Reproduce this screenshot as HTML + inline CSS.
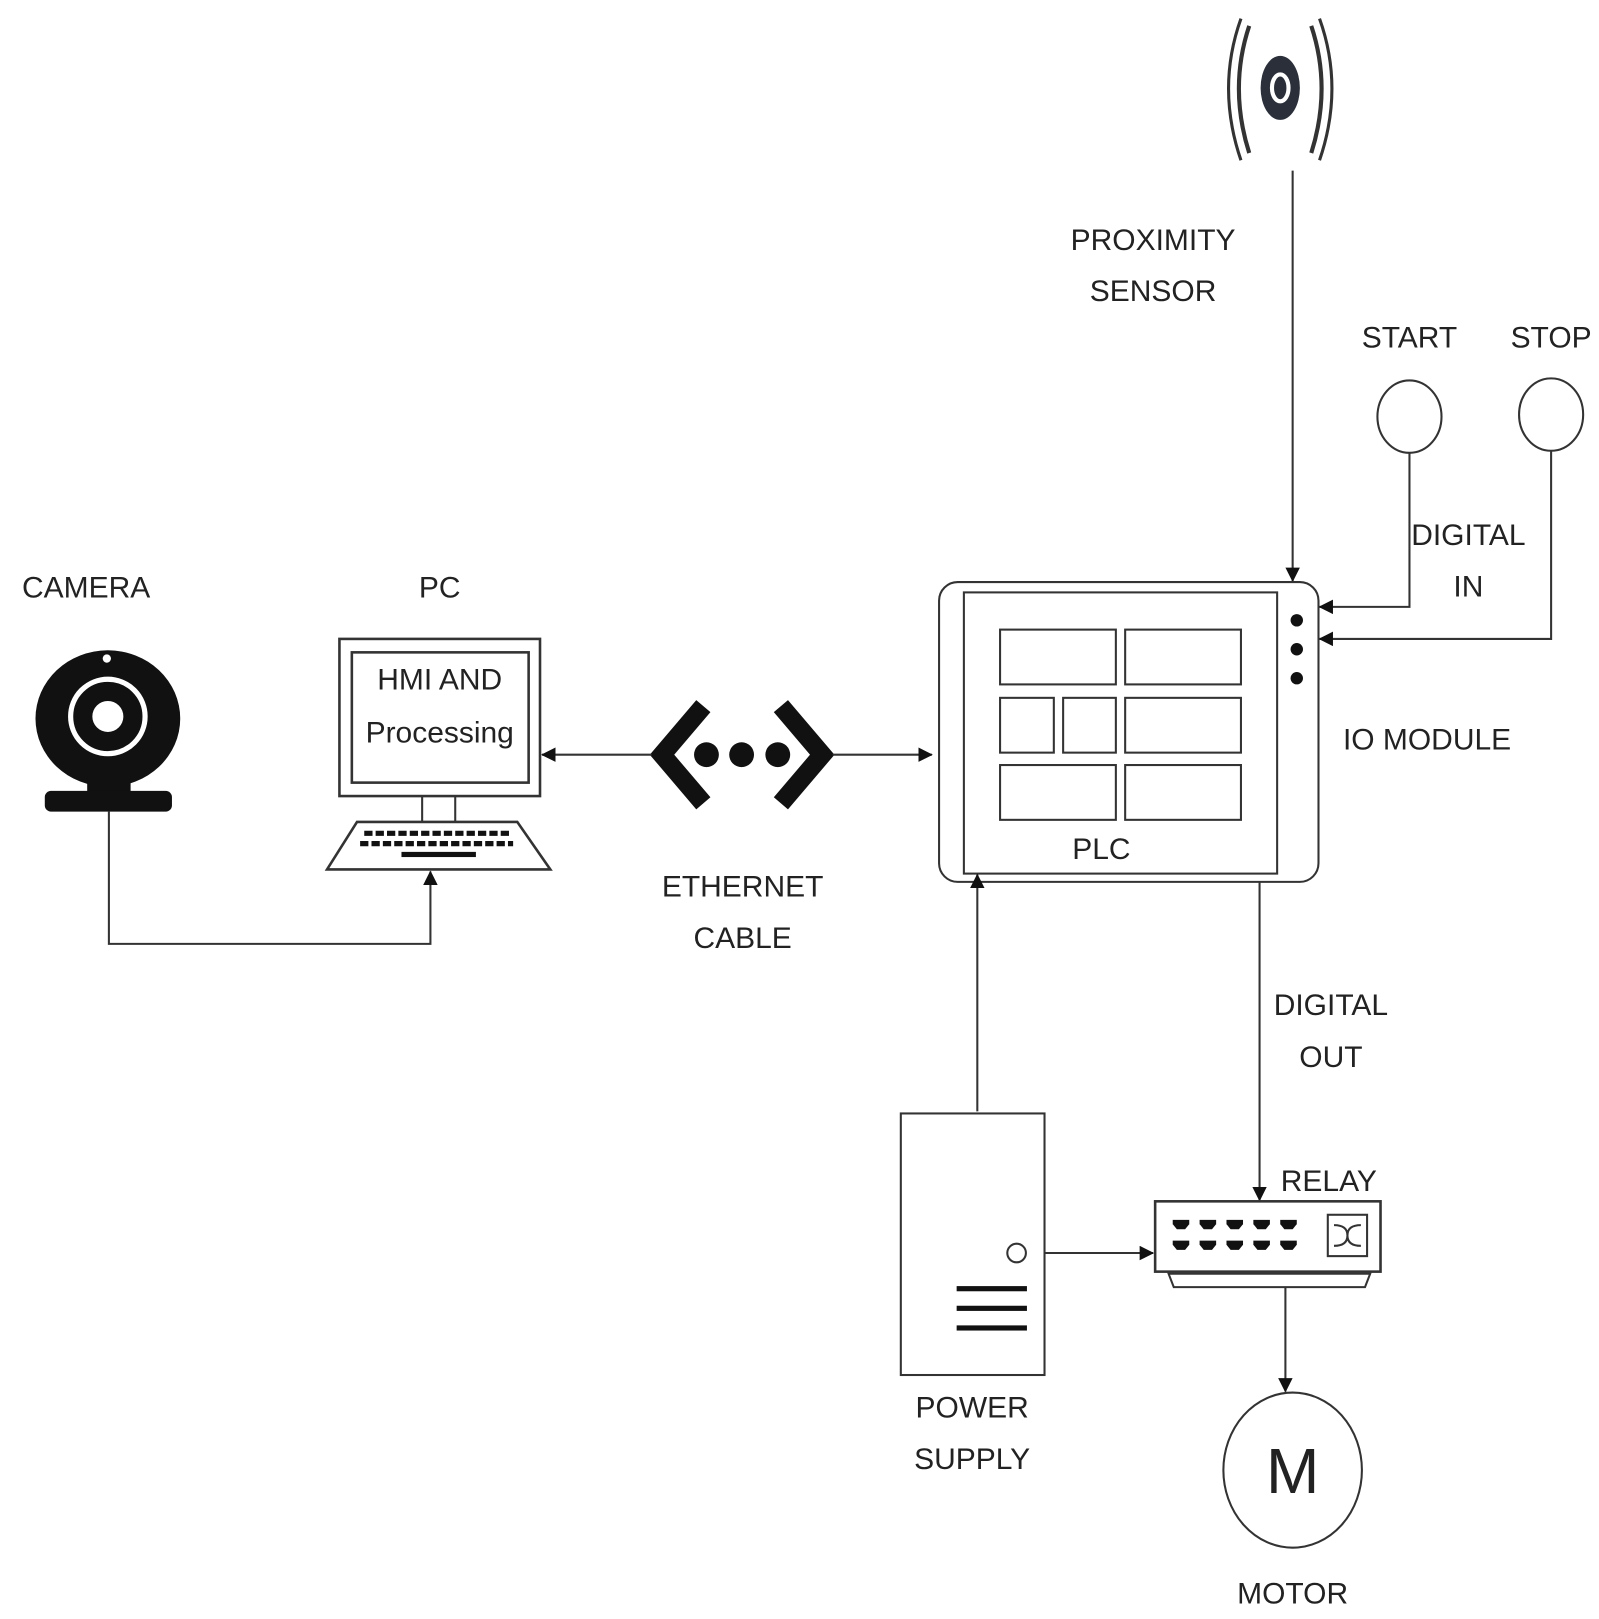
<!DOCTYPE html>
<html><head><meta charset="utf-8"><style>html,body{margin:0;padding:0;background:#fff}svg{display:block}text{font-family:"Liberation Sans",sans-serif;fill:#222;text-anchor:middle}</style></head>
<body>
<svg width="1599" height="1619" viewBox="0 0 1546 1566" xmlns="http://www.w3.org/2000/svg">
<defs><marker id="b" markerWidth="14" markerHeight="14" refX="13" refY="7" orient="auto" markerUnits="userSpaceOnUse" viewBox="0 0 14 14"><path d="M0,0 L14,7 L0,14z" fill="#111"/></marker></defs>
<g stroke="#333" fill="none" stroke-width="2">
<path d="M1208,25 Q1188,85 1208,148" stroke-width="4"/><path d="M1200,18 Q1176,85 1200,155" stroke-width="3"/>
<path d="M1268,25 Q1288,85 1268,148" stroke-width="4"/><path d="M1276,18 Q1300,85 1276,155" stroke-width="3"/>
<ellipse cx="1238" cy="85" rx="19" ry="31" fill="#2a2f3a" stroke="none"/>
<ellipse cx="1238" cy="85" rx="8" ry="13" stroke="#fff" stroke-width="4"/>
<line x1="1250" y1="165" x2="1250" y2="562" marker-end="url(#b)"/>
<ellipse cx="1363" cy="403" rx="31" ry="35"/><ellipse cx="1500" cy="401" rx="31" ry="35"/>
<polyline points="1363,438 1363,587 1276,587" marker-end="url(#b)"/>
<polyline points="1500,436 1500,618 1276,618" marker-end="url(#b)"/>
<rect x="908" y="563" width="367" height="290" rx="18"/>
<rect x="932" y="573" width="303" height="272"/>
<rect x="967" y="609" width="112" height="53"/><rect x="1088" y="609" width="112" height="53"/>
<rect x="967" y="675" width="52" height="53"/><rect x="1028" y="675" width="51" height="53"/><rect x="1088" y="675" width="112" height="53"/>
<rect x="967" y="740" width="112" height="53"/><rect x="1088" y="740" width="112" height="53"/>
<path d="M680,683 L640,730 L680,777" stroke="#111" stroke-width="18" stroke-linejoin="miter"/>
<path d="M755,683 L795,730 L755,777" stroke="#111" stroke-width="18" stroke-linejoin="miter"/>
<line x1="630" y1="730" x2="524" y2="730" marker-end="url(#b)"/>
<line x1="805" y1="730" x2="901" y2="730" marker-end="url(#b)"/>
<rect x="328" y="618" width="194" height="152" stroke-width="2.5"/><rect x="340" y="631" width="171" height="126" stroke-width="2.5"/>
<line x1="408" y1="770" x2="408" y2="795"/><line x1="440" y1="770" x2="440" y2="795"/>
<path d="M345,795 L500,795 L532,841 L316,841z" stroke-width="2.5"/>
<polyline points="105,785 105,913 416,913 416,843" marker-end="url(#b)"/>
<line x1="945" y1="1075" x2="945" y2="846" marker-end="url(#b)"/>
<rect x="871" y="1077" width="139" height="253"/>
<circle cx="983" cy="1212" r="9"/>
<line x1="1010" y1="1212" x2="1115" y2="1212" marker-end="url(#b)"/>
<line x1="1218" y1="853" x2="1218" y2="1161" marker-end="url(#b)"/>
<rect x="1117" y="1162" width="218" height="68" stroke-width="2.5"/>
<path d="M1130,1232 L1325,1232 L1320,1245 L1135,1245z"/>
<rect x="1284" y="1175" width="38" height="40"/>
<path d="M1290,1185 Q1303,1185 1303,1195 Q1303,1205 1316,1205 M1290,1205 Q1303,1205 1303,1195 Q1303,1185 1316,1185"/>
<line x1="1243" y1="1245" x2="1243" y2="1346" marker-end="url(#b)"/>
<ellipse cx="1250" cy="1422" rx="67" ry="75"/>
</g>
<g fill="#111">
<circle cx="1254" cy="600" r="6"/><circle cx="1254" cy="628" r="6"/><circle cx="1254" cy="656" r="6"/>
<circle cx="683" cy="730" r="12"/><circle cx="717" cy="730" r="12"/><circle cx="752" cy="730" r="12"/>
<rect x="925" y="1244" width="68" height="5"/><rect x="925" y="1263" width="68" height="5"/><rect x="925" y="1282" width="68" height="5"/>
<ellipse cx="104" cy="695" rx="70" ry="66"/>
<rect x="84" y="750" width="42" height="20"/>
<rect x="43" y="765" width="123" height="20" rx="6"/>
</g>
<circle cx="103" cy="637" r="4" fill="#fff"/>
<circle cx="104" cy="693" r="36" fill="none" stroke="#fff" stroke-width="5"/>
<circle cx="104" cy="693" r="15" fill="#fff"/>
<g fill="#111">
<g stroke="#111" stroke-width="5" stroke-dasharray="8,3"><line x1="352" y1="806" x2="492" y2="806"/><line x1="348" y1="816" x2="496" y2="816"/></g>
<rect x="388" y="824" width="72" height="5"/>
<g id="p"><path d="M1134,1180 h16 v4 l-4,5 h-8 l-4,-5z"/></g>
<use href="#p" x="26"/><use href="#p" x="52"/><use href="#p" x="78"/><use href="#p" x="104"/>
<use href="#p" y="20"/><use href="#p" x="26" y="20"/><use href="#p" x="52" y="20"/><use href="#p" x="78" y="20"/><use href="#p" x="104" y="20"/>
</g>
<g font-size="29">
<text x="1115" y="242">PROXIMITY</text><text x="1115" y="291">SENSOR</text>
<text x="1363" y="336">START</text><text x="1500" y="336">STOP</text>
<text x="1420" y="527">DIGITAL</text><text x="1420" y="577">IN</text>
<text x="1380" y="725">IO MODULE</text><text x="1065" y="831">PLC</text>
<text x="83" y="578">CAMERA</text><text x="425" y="578">PC</text>
<text x="425" y="667">HMI AND</text><text x="425" y="718">Processing</text>
<text x="718" y="867">ETHERNET</text><text x="718" y="917">CABLE</text>
<text x="1287" y="982">DIGITAL</text><text x="1287" y="1032">OUT</text>
<text x="1285" y="1152">RELAY</text>
<text x="940" y="1371">POWER</text><text x="940" y="1421">SUPPLY</text>
<text x="1250" y="1551">MOTOR</text>
<text x="1250" y="1444" font-size="62">M</text>
</g>
</svg>
</body></html>
